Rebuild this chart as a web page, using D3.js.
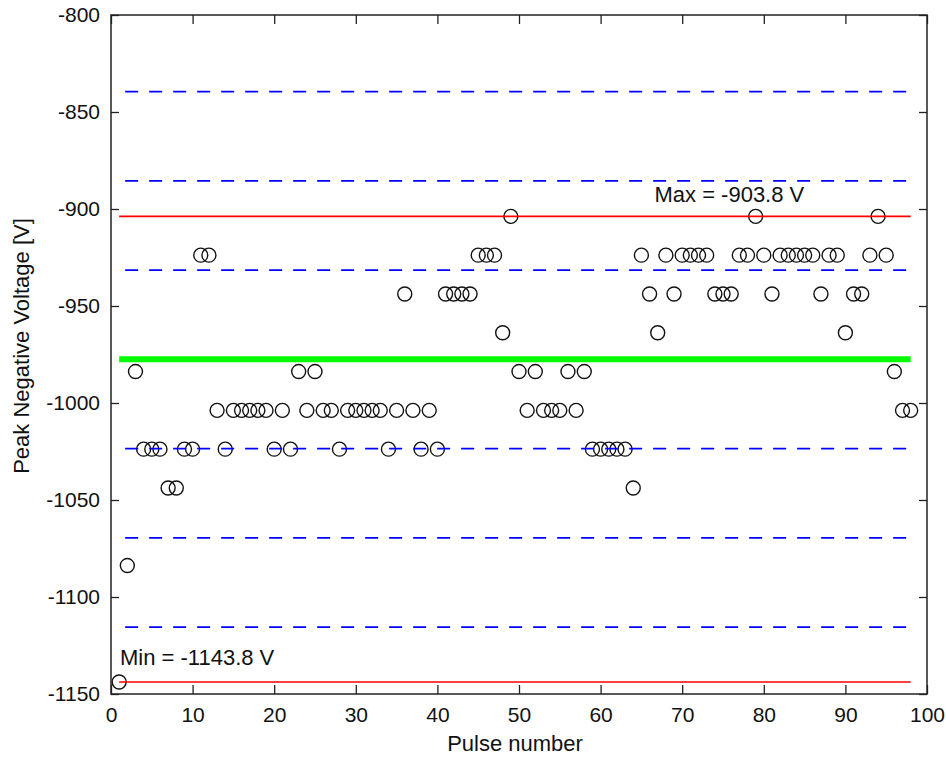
<!DOCTYPE html>
<html>
<head>
<meta charset="utf-8">
<script src="https://cdn.jsdelivr.net/npm/d3@7"></script>
<style>
  body { margin: 0; background: #fff; }
  svg text { font-family: "Liberation Sans", Arial, sans-serif; fill: #111; }
</style>
</head>
<body>
<svg id="chart" width="946" height="757"></svg>
<script>
// ---- Data ----
const pulseNumbers = [
  1, 2, 3, 4, 5, 6, 7, 8, 9, 10, 11, 12, 13, 14, 15, 16, 17, 18, 19, 20,
  21, 22, 23, 24, 25, 26, 27, 28, 29, 30, 31, 32, 33, 34, 35, 36, 37, 38, 39, 40,
  41, 42, 43, 44, 45, 46, 47, 48, 49, 50, 51, 52, 53, 54, 55, 56, 57, 58, 59, 60,
  61, 62, 63, 64, 65, 66, 67, 68, 69, 70, 71, 72, 73, 74, 75, 76, 77, 78, 79, 80,
  81, 82, 83, 84, 85, 86, 87, 88, 89, 90, 91, 92, 93, 94, 95, 96, 97, 98
];
const peakVoltages = [
  -1143.8, -1083.8, -983.8, -1023.8, -1023.8, -1023.8, -1043.8, -1043.8, -1023.8, -1023.8,
  -923.8, -923.8, -1003.8, -1023.8, -1003.8, -1003.8, -1003.8, -1003.8, -1003.8, -1023.8,
  -1003.8, -1023.8, -983.8, -1003.8, -983.8, -1003.8, -1003.8, -1023.8, -1003.8, -1003.8,
  -1003.8, -1003.8, -1003.8, -1023.8, -1003.8, -943.8, -1003.8, -1023.8, -1003.8, -1023.8,
  -943.8, -943.8, -943.8, -943.8, -923.8, -923.8, -923.8, -963.8, -903.8, -983.8,
  -1003.8, -983.8, -1003.8, -1003.8, -1003.8, -983.8, -1003.8, -983.8, -1023.8, -1023.8,
  -1023.8, -1023.8, -1023.8, -1043.8, -923.8, -943.8, -963.8, -923.8, -943.8, -923.8,
  -923.8, -923.8, -923.8, -943.8, -943.8, -943.8, -923.8, -923.8, -903.8, -923.8,
  -943.8, -923.8, -923.8, -923.8, -923.8, -923.8, -943.8, -923.8, -923.8, -963.8,
  -943.8, -943.8, -923.8, -903.8, -923.8, -983.8, -1003.8, -1003.8
];
const xTickValues = [0, 10, 20, 30, 40, 50, 60, 70, 80, 90, 100];
const yTickValues = [-800, -850, -900, -950, -1000, -1050, -1100, -1150];
const sigmaMultiples = [-3, -2, -1, 1, 2, 3];
const xAxisTitle = "Pulse number";
const yAxisTitle = "Peak Negative Voltage [V]";

// ---- Layout ----
const W = 946, H = 757;
const margin = { left: 111, right: 19, top: 15, bottom: 63 };
const pw = W - margin.left - margin.right;
const ph = H - margin.top - margin.bottom;

const locale = d3.formatLocale({ decimal: ".", thousands: ",", grouping: [3], currency: ["", ""], minus: "-" });
const fmtInt = locale.format("d");
const fmt1 = locale.format(".1f");

const svg = d3.select("#chart");
const g = svg.append("g").attr("transform", `translate(${margin.left},${margin.top})`);

const xScale = d3.scaleLinear().domain([0, 100]).range([0, pw]);
const yScale = d3.scaleLinear().domain([-1150, -800]).range([ph, 0]);

const points = pulseNumbers.map((p, i) => ({ p, v: peakVoltages[i] }));
const meanV = d3.mean(peakVoltages);
const sdV = d3.deviation(peakVoltages);
const maxV = d3.max(peakVoltages);
const minV = d3.min(peakVoltages);
const [xFirst, xLast] = d3.extent(pulseNumbers);

// ---- Axes ----
const tickFont = 21;
const axBottom = g.append("g").attr("transform", `translate(0,${ph})`)
  .call(d3.axisBottom(xScale).tickValues(xTickValues).tickSize(-9).tickPadding(13).tickFormat(fmtInt));
const axLeft = g.append("g")
  .call(d3.axisLeft(yScale).tickValues(yTickValues).tickSize(-8).tickPadding(11).tickFormat(fmtInt));
const axTop = g.append("g")
  .call(d3.axisTop(xScale).tickValues(xTickValues).tickSize(-9).tickFormat(""));
const axRight = g.append("g").attr("transform", `translate(${pw},0)`)
  .call(d3.axisRight(yScale).tickValues(yTickValues).tickSize(-8).tickFormat(""));

[axBottom, axLeft, axTop, axRight].forEach(a => {
  a.select(".domain").remove();
  a.selectAll("line").attr("stroke", "#222").attr("stroke-width", 1.3);
  a.selectAll("text").attr("font-size", tickFont).attr("fill", "#111")
    .style("font-family", '"Liberation Sans", Arial, sans-serif');
});

// ---- Points ----
g.append("g").selectAll("circle").data(points).join("circle")
  .attr("cx", d => xScale(d.p)).attr("cy", d => yScale(d.v)).attr("r", 7)
  .attr("fill", "none").attr("stroke", "#111").attr("stroke-width", 1.4);

// ---- Reference lines ----
g.append("g").selectAll("line").data(sigmaMultiples).join("line")
  .attr("x1", xScale(xFirst)).attr("x2", xScale(xLast))
  .attr("y1", k => yScale(meanV + k * sdV)).attr("y2", k => yScale(meanV + k * sdV))
  .attr("stroke", "#0000ff").attr("stroke-width", 1.7)
  .attr("stroke-dasharray", "13,11").attr("stroke-dashoffset", -6);

g.append("g").selectAll("line").data([maxV, minV]).join("line")
  .attr("x1", xScale(xFirst)).attr("x2", xScale(xLast))
  .attr("y1", v => yScale(v)).attr("y2", v => yScale(v))
  .attr("stroke", "#ff0000").attr("stroke-width", 1.6);

g.append("line")
  .attr("x1", xScale(xFirst)).attr("x2", xScale(xLast))
  .attr("y1", yScale(meanV)).attr("y2", yScale(meanV))
  .attr("stroke", "#00ff00").attr("stroke-width", 6);

// ---- Annotations ----
g.append("text").attr("x", xScale(66.6)).attr("y", yScale(maxV) - 14)
  .attr("font-size", 22).text(`Max = ${fmt1(maxV)} V`);
g.append("text").attr("x", xScale(1.1)).attr("y", yScale(minV) - 17)
  .attr("font-size", 22).text(`Min = ${fmt1(minV)} V`);

// ---- Box ----
g.append("rect").attr("x", 0).attr("y", 0).attr("width", pw).attr("height", ph)
  .attr("fill", "none").attr("stroke", "#222").attr("stroke-width", 1.5);

// ---- Axis titles ----
svg.append("text").attr("x", margin.left + pw / 2 - 4).attr("y", 751)
  .attr("text-anchor", "middle").attr("font-size", 22).text(xAxisTitle);
svg.append("text").attr("transform", `translate(29,346) rotate(-90)`)
  .attr("text-anchor", "middle").attr("font-size", 22).text(yAxisTitle);
</script>
</body>
</html>
